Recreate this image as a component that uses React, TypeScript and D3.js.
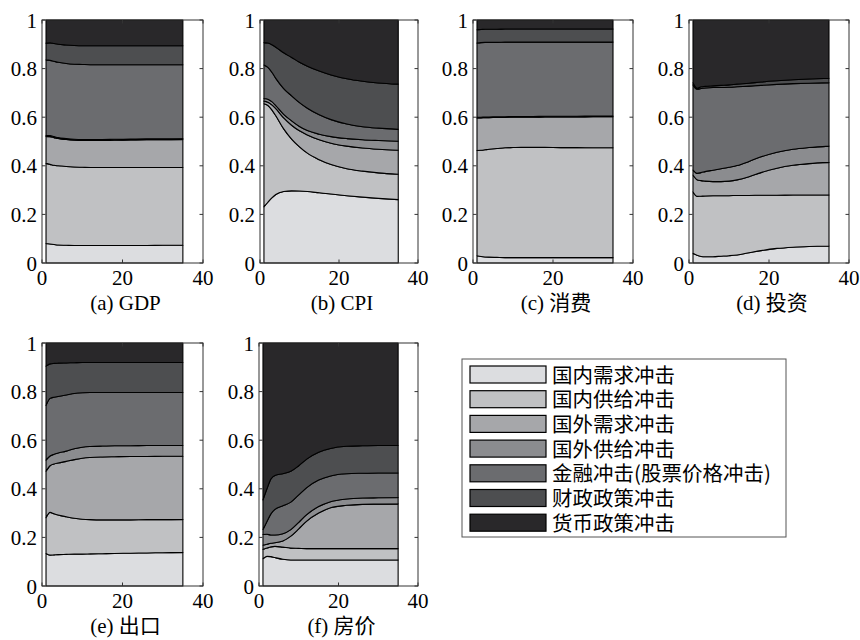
import React from "react";
import * as d3 from "d3";

// ---------- data ----------
const shocks = [
  "国内需求冲击",
  "国内供给冲击",
  "国外需求冲击",
  "国外供给冲击",
  "金融冲击(股票价格冲击)",
  "财政政策冲击",
  "货币政策冲击",
];
const shockColors = ["#dcdde0", "#c0c1c3", "#a6a7aa", "#8b8c8f", "#6b6c6f", "#4d4e50", "#29282a"];

const periods = [1, 2, 3, 4, 6, 8, 10, 12, 15, 18, 22, 26, 30, 35];
const xTicks = [0, 20, 40];
const yTicks = [0, 0.2, 0.4, 0.6, 0.8, 1];
const yTickLabels = ["0", "0.2", "0.4", "0.6", "0.8", "1"];
const panelTitles = ["(a) GDP", "(b) CPI", "(c) 消费", "(d) 投资", "(e) 出口", "(f) 房价"];

// cumulative upper edge of the first six shocks' bands (the seventh reaches 1)
const gdpTops = [
  [0.080, 0.078, 0.076, 0.074, 0.073, 0.072, 0.072, 0.072, 0.072, 0.072, 0.072, 0.072, 0.073, 0.073],
  [0.410, 0.406, 0.402, 0.400, 0.397, 0.395, 0.394, 0.393, 0.393, 0.393, 0.393, 0.393, 0.393, 0.393],
  [0.521, 0.520, 0.516, 0.512, 0.508, 0.505, 0.504, 0.504, 0.504, 0.505, 0.506, 0.507, 0.507, 0.508],
  [0.525, 0.524, 0.520, 0.516, 0.512, 0.509, 0.508, 0.508, 0.508, 0.509, 0.510, 0.511, 0.511, 0.512],
  [0.836, 0.834, 0.830, 0.826, 0.821, 0.818, 0.817, 0.816, 0.816, 0.816, 0.816, 0.816, 0.816, 0.816],
  [0.905, 0.906, 0.903, 0.900, 0.897, 0.895, 0.894, 0.894, 0.894, 0.894, 0.894, 0.894, 0.894, 0.894],
];

const cpiTops = [
  [0.231, 0.250, 0.268, 0.282, 0.294, 0.297, 0.296, 0.294, 0.289, 0.284, 0.277, 0.271, 0.266, 0.261],
  [0.655, 0.648, 0.630, 0.606, 0.552, 0.510, 0.478, 0.452, 0.425, 0.405, 0.388, 0.378, 0.371, 0.365],
  [0.666, 0.662, 0.651, 0.635, 0.597, 0.567, 0.544, 0.527, 0.507, 0.493, 0.481, 0.473, 0.468, 0.464],
  [0.677, 0.674, 0.664, 0.648, 0.612, 0.585, 0.562, 0.545, 0.530, 0.520, 0.512, 0.507, 0.504, 0.501],
  [0.815, 0.805, 0.785, 0.760, 0.718, 0.688, 0.660, 0.637, 0.610, 0.590, 0.572, 0.561, 0.555, 0.550],
  [0.907, 0.905, 0.898, 0.888, 0.865, 0.846, 0.826, 0.810, 0.790, 0.774, 0.758, 0.748, 0.741, 0.736],
];

const consumptionTops = [
  [0.030, 0.027, 0.025, 0.024, 0.023, 0.022, 0.022, 0.022, 0.022, 0.022, 0.022, 0.022, 0.022, 0.022],
  [0.463, 0.464, 0.466, 0.468, 0.471, 0.474, 0.475, 0.476, 0.476, 0.476, 0.475, 0.475, 0.474, 0.474],
  [0.597, 0.597, 0.598, 0.598, 0.599, 0.599, 0.600, 0.600, 0.600, 0.601, 0.601, 0.601, 0.602, 0.602],
  [0.600, 0.600, 0.601, 0.601, 0.602, 0.602, 0.603, 0.603, 0.603, 0.604, 0.604, 0.604, 0.605, 0.605],
  [0.905, 0.907, 0.908, 0.908, 0.908, 0.909, 0.909, 0.909, 0.909, 0.909, 0.909, 0.909, 0.909, 0.909],
  [0.960, 0.961, 0.962, 0.962, 0.962, 0.963, 0.963, 0.963, 0.963, 0.963, 0.963, 0.963, 0.963, 0.963],
];

const investmentTops = [
  [0.040, 0.032, 0.027, 0.026, 0.026, 0.028, 0.030, 0.033, 0.042, 0.051, 0.060, 0.065, 0.068, 0.070],
  [0.293, 0.274, 0.275, 0.276, 0.277, 0.277, 0.277, 0.278, 0.278, 0.279, 0.279, 0.280, 0.280, 0.280],
  [0.362, 0.343, 0.339, 0.337, 0.335, 0.335, 0.337, 0.342, 0.355, 0.372, 0.390, 0.402, 0.409, 0.414],
  [0.383, 0.369, 0.372, 0.376, 0.382, 0.388, 0.394, 0.401, 0.418, 0.437, 0.456, 0.468, 0.475, 0.481],
  [0.733, 0.715, 0.718, 0.720, 0.722, 0.722, 0.723, 0.725, 0.728, 0.731, 0.735, 0.738, 0.740, 0.742],
  [0.742, 0.720, 0.725, 0.727, 0.729, 0.731, 0.733, 0.736, 0.740, 0.745, 0.750, 0.754, 0.757, 0.760],
];

const exportTops = [
  [0.134, 0.127, 0.128, 0.129, 0.130, 0.131, 0.131, 0.132, 0.133, 0.134, 0.135, 0.136, 0.137, 0.138],
  [0.281, 0.303, 0.297, 0.292, 0.285, 0.279, 0.275, 0.273, 0.272, 0.272, 0.272, 0.273, 0.273, 0.274],
  [0.472, 0.495, 0.502, 0.506, 0.513, 0.520, 0.526, 0.529, 0.531, 0.532, 0.533, 0.533, 0.534, 0.534],
  [0.518, 0.535, 0.542, 0.547, 0.555, 0.565, 0.571, 0.574, 0.576, 0.577, 0.577, 0.578, 0.578, 0.578],
  [0.743, 0.772, 0.777, 0.780, 0.786, 0.792, 0.795, 0.796, 0.796, 0.796, 0.796, 0.796, 0.796, 0.796],
  [0.905, 0.914, 0.916, 0.917, 0.918, 0.919, 0.920, 0.920, 0.920, 0.920, 0.920, 0.920, 0.920, 0.920],
];

const housePriceTops = [
  [0.112, 0.122, 0.121, 0.117, 0.110, 0.107, 0.107, 0.107, 0.107, 0.107, 0.107, 0.107, 0.107, 0.107],
  [0.150, 0.156, 0.161, 0.163, 0.160, 0.156, 0.155, 0.154, 0.154, 0.154, 0.154, 0.154, 0.154, 0.154],
  [0.168, 0.172, 0.176, 0.178, 0.185, 0.205, 0.235, 0.267, 0.300, 0.322, 0.332, 0.336, 0.337, 0.338],
  [0.212, 0.213, 0.210, 0.210, 0.215, 0.232, 0.262, 0.294, 0.327, 0.347, 0.358, 0.362, 0.363, 0.364],
  [0.232, 0.265, 0.297, 0.315, 0.330, 0.345, 0.375, 0.405, 0.436, 0.453, 0.462, 0.464, 0.465, 0.465],
  [0.354, 0.400, 0.440, 0.455, 0.462, 0.472, 0.495, 0.522, 0.550, 0.566, 0.575, 0.577, 0.578, 0.578],
];

const panelData = [gdpTops, cpiTops, consumptionTops, investmentTops, exportTops, housePriceTops];

// ---------- layout ----------
const W = 860;
const H = 640;
const panelBoxes = [
  { left: 42, top: 20, width: 161, height: 243 },
  { left: 260, top: 20, width: 158, height: 243 },
  { left: 473, top: 20, width: 160, height: 243 },
  { left: 689, top: 20, width: 160, height: 243 },
  { left: 42, top: 343, width: 161, height: 243 },
  { left: 259, top: 343, width: 159, height: 243 },
];

const serif = "'Liberation Serif', 'Times New Roman', 'Noto Sans CJK SC', serif";
const cjk = "'Noto Sans CJK SC', 'Liberation Serif', sans-serif";
const tickLen = 3.5;
const axisColor = "#333";

type Pt = { x: number; y0: number; y1: number };

function Panel({ tops, box, title }: { tops: number[][]; box: any; title: string }) {
  const x = d3.scaleLinear().domain([0, 40]).range([box.left, box.left + box.width]);
  const y = d3.scaleLinear().domain([0, 1]).range([box.top + box.height, box.top]);
  const bounds = [periods.map(() => 0), ...tops, periods.map(() => 1)];
  const area = d3
    .area<Pt>()
    .x((d) => x(d.x))
    .y0((d) => y(d.y0))
    .y1((d) => y(d.y1))
    .curve(d3.curveMonotoneX);

  const bands = shocks.map((_, k) =>
    periods.map((p, i) => ({ x: p, y0: bounds[k][i], y1: bounds[k + 1][i] }))
  );

  const x0 = box.left;
  const x1 = box.left + box.width;
  const yb = box.top + box.height;
  const yt = box.top;

  return (
    <g>
      {bands.map((b, k) => (
        <path
          key={k}
          d={area(b) || ""}
          fill={shockColors[k]}
          stroke="#000"
          strokeWidth={1.1}
          strokeLinejoin="round"
        />
      ))}
      {/* box */}
      <rect x={x0} y={yt} width={box.width} height={box.height} fill="none" stroke={axisColor} strokeWidth={1} />
      {/* y ticks */}
      {yTicks.map((t, i) => (
        <g key={"y" + i}>
          <line x1={x0} x2={x0 + tickLen} y1={y(t)} y2={y(t)} stroke={axisColor} />
          <line x1={x1} x2={x1 - tickLen} y1={y(t)} y2={y(t)} stroke={axisColor} />
          <text
            x={x0 - 5}
            y={y(t) + 7.5}
            textAnchor="end"
            fontFamily={serif}
            fontSize={21}
            fill="#000"
          >
            {yTickLabels[i]}
          </text>
        </g>
      ))}
      {/* x ticks */}
      {xTicks.map((t, i) => (
        <g key={"x" + i}>
          <line x1={x(t)} x2={x(t)} y1={yb} y2={yb - tickLen} stroke={axisColor} />
          <line x1={x(t)} x2={x(t)} y1={yt} y2={yt + tickLen} stroke={axisColor} />
          <text x={x(t)} y={yb + 22} textAnchor="middle" fontFamily={serif} fontSize={21} fill="#000">
            {t}
          </text>
        </g>
      ))}
      <text
        x={(x0 + x1) / 2 + 3}
        y={yb + 47}
        textAnchor="middle"
        fontFamily={serif}
        fontSize={21}
        fill="#000"
      >
        {title}
      </text>
    </g>
  );
}

function Legend() {
  const lx = 462;
  const ly = 359;
  const lw = 324;
  const lh = 178;
  const rowY = d3.scaleLinear().domain([0, shocks.length - 1]).range([ly + 15.5, ly + 15.5 + 6 * 24.7]);
  return (
    <g>
      <rect x={lx} y={ly} width={lw} height={lh} fill="#fff" stroke="#555" strokeWidth={1} />
      {shocks.map((s, i) => (
        <g key={i}>
          <rect
            x={lx + 8}
            y={rowY(i) - 8.5}
            width={76}
            height={17}
            fill={shockColors[i]}
            stroke="#000"
            strokeWidth={1.2}
          />
          <text x={lx + 90} y={rowY(i) + 8} fontFamily={cjk} fontSize={20.5} fill="#000">
            {s}
          </text>
        </g>
      ))}
    </g>
  );
}

export default function App() {
  return (
    <svg
      width={W}
      height={H}
      viewBox={`0 0 ${W} ${H}`}
      style={{ position: "absolute", left: 0, top: 0, background: "#fff" }}
    >
      <rect x={0} y={0} width={W} height={H} fill="#fff" />
      {panelData.map((tops, i) => (
        <Panel key={i} tops={tops} box={panelBoxes[i]} title={panelTitles[i]} />
      ))}
      <Legend />
    </svg>
  );
}
